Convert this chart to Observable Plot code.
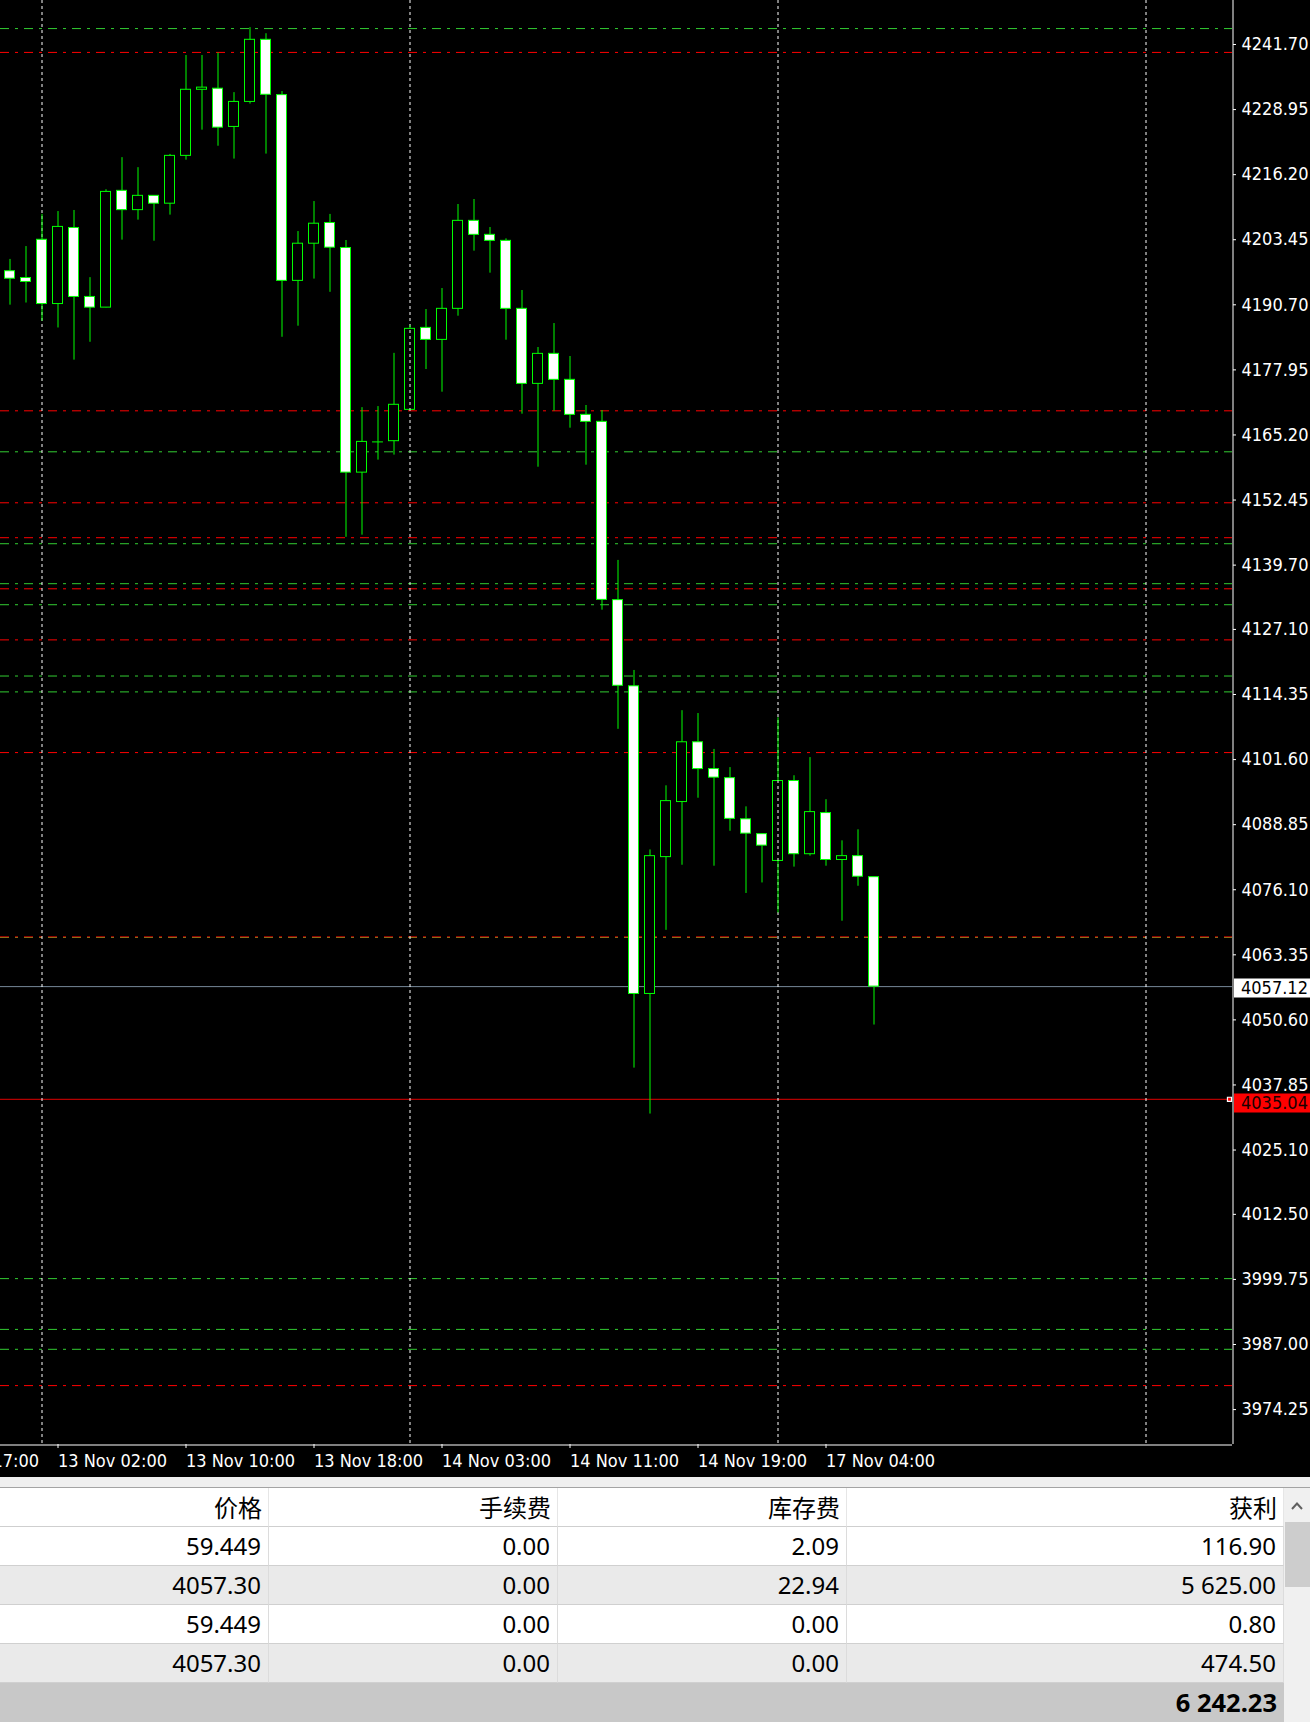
<!DOCTYPE html>
<html><head><meta charset="utf-8">
<script src="https://cdn.jsdelivr.net/npm/d3@7"></script>
<script src="https://cdn.jsdelivr.net/npm/@observablehq/plot@0.6"></script>
<style>
html,body{margin:0;padding:0;background:#f0f0f0;}
#wrap{width:1310px;height:1722px;position:relative;overflow:hidden;background:#f0f0f0;}
#chart svg{display:block;overflow:hidden;}
#strip{height:10px;background:#efefef;border-bottom:1px solid #a3a3a3;}
#tbl{position:absolute;left:0;top:1488px;width:1284px;}
.row{display:flex;height:39px;}
.cell{box-sizing:border-box;height:39px;border-right:1px solid #dcdcdc;border-bottom:1px solid #d0d0d0;text-align:right;padding-right:7px;
  font-family:"Noto Sans","Open Sans",sans-serif;font-size:24px;line-height:38px;color:#000;white-space:nowrap;overflow:hidden;}
.hdr .cell{font-family:"Noto Sans CJK SC","Noto Sans",sans-serif;padding-right:6px;font-size:24px;border-right-color:#e6e6e6;border-bottom-color:#cfcfcf;}
.total .cell{border:none;font-weight:700;font-size:25.5px;}
#sb{position:absolute;left:1284px;top:1488px;width:26px;height:234px;background:#f0f0f0;}
#thumb{position:absolute;left:1px;top:34px;width:25px;height:65px;background:#cdcdcd;}
#arrow{position:absolute;left:0;top:0;width:26px;height:34px;}
</style></head>
<body>
<div id="wrap">
  <div id="chart"></div>
  <div id="strip"></div>
  <div id="tbl"></div>
  <div id="sb"><svg id="arrow" width="26" height="34"><polyline points="8,21 13,15.5 18,21" fill="none" stroke="#606060" stroke-width="2"/></svg><div id="thumb"></div></div>
</div>
<script>
// ---- candle data (H1 bars, index 0 = 12 Nov 23:00) ----
const opens = [4197.28,4195.95,4203.44,4190.85,4205.75,4192.24,4190.15,4213.03,4209.25,4212.05,4210.51,4219.88,4232.83,4233.04,4225.55,4230.45,4242.62,4231.78,4195.39,4202.67,4206.73,4201.83,4157.82,4163.84,4163.98,4170.12,4186.18,4183.83,4189.91,4207.15,4204.41,4203.23,4189.91,4175.21,4181.09,4176.00,4169.14,4167.77,4132.84,4115.96,4055.68,4082.49,4093.28,4104.99,4099.74,4097.96,4089.90,4086.99,4081.74,4097.40,4083.06,4091.12,4081.93,4082.68,4078.56];
const highs = [4199.59,4202.11,4208.41,4208.97,4209.18,4196.02,4213.24,4219.53,4217.57,4212.10,4220.16,4239.54,4239.54,4240.03,4232.27,4245.00,4243.81,4232.48,4205.05,4210.93,4208.41,4203.30,4170.55,4170.76,4181.19,4186.64,4189.78,4193.89,4210.35,4211.33,4205.84,4203.62,4193.50,4182.33,4187.03,4180.57,4170.97,4169.99,4140.62,4119.06,4083.90,4096.46,4111.18,4110.62,4103.59,4100.03,4092.34,4087.10,4109.78,4098.43,4101.99,4093.74,4085.68,4087.84,4078.60];
const lows = [4190.63,4191.05,4187.49,4186.16,4179.86,4183.36,4190.10,4203.37,4207.29,4203.16,4208.27,4219.04,4224.92,4221.77,4219.25,4230.03,4220.23,4184.34,4186.51,4195.74,4193.15,4145.15,4145.57,4160.27,4161.25,4170.00,4178.02,4173.58,4188.47,4201.21,4196.90,4183.77,4169.27,4158.88,4169.86,4166.53,4159.28,4130.87,4107.53,4041.15,4032.15,4068.15,4080.90,4094.03,4080.71,4087.56,4075.37,4077.43,4071.53,4080.53,4082.68,4080.71,4069.93,4076.78,4049.59];
const closes = [4195.81,4195.18,4190.85,4205.96,4192.24,4190.15,4212.82,4209.25,4212.05,4210.51,4219.88,4232.83,4233.25,4225.41,4230.45,4242.62,4231.85,4195.39,4202.67,4206.59,4201.90,4157.82,4163.84,4163.84,4171.11,4185.99,4183.83,4189.91,4207.15,4204.41,4203.23,4189.91,4175.21,4181.09,4176.00,4169.14,4167.77,4132.89,4116.06,4055.68,4082.68,4093.46,4104.99,4099.74,4098.06,4089.99,4087.09,4084.74,4097.40,4083.06,4091.31,4081.93,4082.68,4078.65,4057.12];

// ---- axis ticks ----
const xTickIdx = [-5, 3, 11, 19, 27, 35, 43, 51];
const xTickLabels = ["12 Nov 17:00","13 Nov 02:00","13 Nov 10:00","13 Nov 18:00","14 Nov 03:00","14 Nov 11:00","14 Nov 19:00","17 Nov 04:00"];
const yTicks = [4241.70,4228.95,4216.20,4203.45,4190.70,4177.95,4165.20,4152.45,4139.70,4127.10,4114.35,4101.60,4088.85,4076.10,4063.35,4050.60,4037.85,4025.10,4012.50,3999.75,3987.00,3974.25];
const gridIdx = [2, 25, 48, 71];

// ---- horizontal level lines ----
const redLevels = [4240.15,4169.93,4151.91,4145.07,4135.06,4125.05,4102.97,4066.85,3978.95];
const greenLevels = [4244.82,4161.90,4143.89,4136.06,4131.94,4117.97,4114.86,4066.75,3999.91,3989.96,3986.06];
const currentPrice = 4057.12;
const alertPrice = 4035.04;

// ---- table ----
const tableHeaders = ["价格","手续费","库存费","获利"];
const colPrice = ["59.449","4057.30","59.449","4057.30"];
const colCommission = ["0.00","0.00","0.00","0.00"];
const colSwap = ["2.09","22.94","0.00","0.00"];
const colProfit = ["116.90","5 625.00","0.80","474.50"];
const totalProfit = "6 242.23";

const xDomain = [-0.59375, 76.40625];
const yDomain = [3967.41, 4250.32];

const candles = opens.map((o, i) => ({i, o, h: highs[i], l: lows[i], c: closes[i]}));
const bulls = candles.filter(d => d.c > d.o);
const bears = candles.filter(d => d.c < d.o);
const dojis = candles.filter(d => d.c === d.o);
const labelOf = new Map(xTickIdx.map((k, j) => [k, xTickLabels[j]]));

const LIME = "#00ff00";
const FONT = '"DejaVu Sans Condensed","DejaVu Sans",sans-serif';

function priceTag(price, bg, fg, shift) {
  return (index, scales, values, dim) => {
    const y = Math.round(scales.y(price)) + shift;
    const x0 = dim.width - dim.marginRight + 2;
    const g = d3.create("svg:g");
    g.append("rect").attr("x", x0).attr("y", y - 9.5).attr("width", dim.marginRight - 2).attr("height", 19).attr("fill", bg);
    g.append("text").attr("x", x0 + 7).attr("y", y).attr("dy", "0.36em").attr("fill", fg)
      .attr("text-anchor", "start").attr("font-size", 18).attr("font-family", FONT).text(price.toFixed(2));
    return g.node();
  };
}

const chart = Plot.plot({
  width: 1310,
  height: 1477,
  marginLeft: 0,
  marginRight: 78,
  marginTop: 0,
  marginBottom: 33,
  style: {background: "black", color: "white", fontFamily: FONT, fontSize: "18px", overflow: "hidden"},
  x: {domain: xDomain},
  y: {domain: yDomain},
  marks: [
    Plot.ruleY(greenLevels, {y: d => d, stroke: "#32cd32", strokeWidth: 1, strokeDasharray: "9,6,3,6"}),
    Plot.ruleY(redLevels, {y: d => d, stroke: "#ff0000", strokeWidth: 1, strokeDasharray: "9,6,3,6"}),
    Plot.ruleY([currentPrice], {y: d => d, stroke: "#778899", strokeWidth: 1}),
    Plot.ruleY([alertPrice], {y: d => d, stroke: "#e00000", strokeWidth: 1}),
    Plot.rect(bulls, {x1: d => d.i - 0.5, x2: d => d.i + 0.5, insetLeft: 3, insetRight: 3, y1: "o", y2: "c", fill: "black", stroke: LIME, strokeWidth: 1}),
    Plot.rect(bears, {x1: d => d.i - 0.5, x2: d => d.i + 0.5, insetLeft: 3, insetRight: 3, y1: "o", y2: "c", fill: "white", stroke: LIME, strokeWidth: 1}),
    Plot.ruleY(dojis, {y: "o", x1: d => d.i - 0.34, x2: d => d.i + 0.34, stroke: LIME, strokeWidth: 1}),
    Plot.ruleX(gridIdx, {x: d => d, stroke: "white", strokeWidth: 1, strokeDasharray: "3,3"}),
    Plot.ruleX(candles, {x: "i", y1: "h", y2: d => Math.max(d.o, d.c), stroke: LIME, strokeWidth: 1}),
    Plot.ruleX(candles, {x: "i", y1: d => Math.min(d.o, d.c), y2: "l", stroke: LIME, strokeWidth: 1}),
    // chart frame: right and bottom edges
    Plot.ruleX([xDomain[1]], {x: d => d, dx: 0.5, stroke: "white", strokeWidth: 1}),
    Plot.ruleY([yDomain[0]], {y: d => d, dy: 0.5, stroke: "white", strokeWidth: 1}),
    Plot.axisY(yTicks, {anchor: "right", tickSize: 3, tickPadding: 6, stroke: "white", fill: "white", fontSize: 18,
      tickFormat: d => d.toFixed(2), label: null}),
    Plot.axisX(xTickIdx, {anchor: "bottom", tickSize: 4, tickPadding: 6, textAnchor: "start", stroke: "white", fill: "white", fontSize: 18,
      tickFormat: d => labelOf.get(d), label: null}),
    priceTag(currentPrice, "white", "black", 2),
    priceTag(alertPrice, "#ff0000", "#1a0000", 4),
    Plot.dot([alertPrice], {y: d => d, frameAnchor: "right", dx: -3, symbol: "square", r: 2.3, stroke: "white", fill: "#ff0000", strokeWidth: 1.2})
  ]
});
document.getElementById("chart").appendChild(chart);

// ---- table below the chart ----
const widths = [269, 289, 289, 437];
const tbl = document.getElementById("tbl");
function addRow(values, cls, bg) {
  const r = document.createElement("div");
  r.className = "row " + cls;
  r.style.background = bg;
  values.forEach((v, j) => {
    const c = document.createElement("div");
    c.className = "cell";
    c.style.width = widths[j] + "px";
    c.textContent = v;
    r.appendChild(c);
  });
  tbl.appendChild(r);
}
addRow(tableHeaders, "hdr", "#ffffff");
const rowBg = ["#ffffff", "#eaeaea", "#ffffff", "#eaeaea"];
colPrice.forEach((v, i) => addRow([v, colCommission[i], colSwap[i], colProfit[i]], "", rowBg[i]));
addRow(["", "", "", totalProfit], "total", "#c8c8c8");
</script>
</body></html>
